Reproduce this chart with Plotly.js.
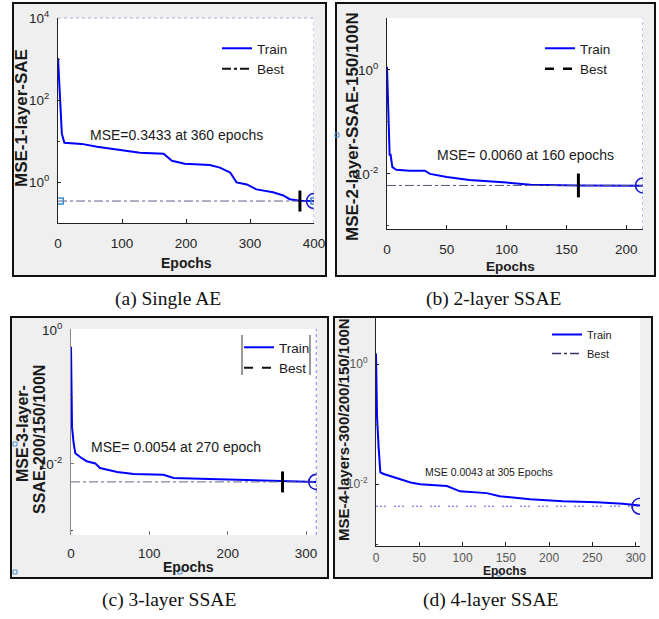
<!DOCTYPE html>
<html>
<head>
<meta charset="utf-8">
<script src="https://cdn.plot.ly/plotly-3.0.1.min.js"></script>
<style>html,body{margin:0;padding:0;background:#fff;}#chart{width:659px;height:619px;}</style>
</head>
<body>
<div id="chart"></div>
<script>
// ---------- DATA ----------
// (a) Single AE
const epochsA = [0, 3.6, 6, 10, 37, 61, 95, 128, 165, 178, 198, 237, 253, 269, 279, 295, 310, 336, 352, 362, 378, 400];
const mseA    = [1050, 95, 15.1, 9.1, 8.5, 7.2, 6.2, 5.2, 4.9, 3.3, 2.8, 2.6, 2.24, 1.7, 0.98, 0.87, 0.66, 0.56, 0.47, 0.38, 0.35, 0.345];
const bestA = 0.3433, bestEpochA = 378, lastEpochA = 400;
const markEpochsA = [3.6, 400];

// (b) 2-layer SSAE
const epochsB = [0, 1.1, 2.2, 3, 4.5, 7.8, 19, 31.6, 36, 50, 69, 100, 120, 160, 214];
const mseB    = [1.15, 0.079, 0.0234, 0.0234, 0.0135, 0.0120, 0.0115, 0.0115, 0.0100, 0.0087, 0.0076, 0.0068, 0.0062, 0.0060, 0.0059];
const bestB = 0.0060, bestEpochB = 160, lastEpochB = 214;

// (c) 3-layer SSAE
const epochsC = [0, 0.4, 1.3, 3.4, 5.5, 12, 20, 31, 37, 59, 80, 118, 131, 165, 207, 271, 313];
const mseC    = [0.56, 0.162, 0.0355, 0.0204, 0.0145, 0.0126, 0.0110, 0.0102, 0.0087, 0.0076, 0.0071, 0.0069, 0.0062, 0.0060, 0.0058, 0.0055, 0.0054];
const bestC = 0.0054, bestEpochC = 270, lastEpochC = 313;

// (d) 4-layer SSAE
const epochsD = [0, 1.2, 3, 5, 9, 24, 40, 51, 82, 97, 128, 143, 178, 216, 255, 285, 305];
const mseD    = [1.51, 0.132, 0.0417, 0.0158, 0.0148, 0.0126, 0.0107, 0.0100, 0.0093, 0.0076, 0.0071, 0.0063, 0.0056, 0.0052, 0.0050, 0.0047, 0.0044];
const bestD = 0.0043, lastEpochD = 305;

// tick labels
const xticksA = [0, 100, 200, 300, 400];
const xticksB = [0, 50, 100, 150, 200];
const xticksC = [0, 100, 200, 300];
const xticksD = [0, 50, 100, 150, 200, 250, 300];
const yvalsA = [1, 100, 10000];
const ytextA = ['10<sup>0</sup>', '10<sup>2</sup>', '10<sup>4</sup>'];
const yminorA = [0.1, 10, 1000];
const yvalsBCD = [0.01, 1];
const ytextBCD = ['10<sup>-2</sup>', '10<sup>0</sup>'];
const yminorBCD = [0.001, 0.1, 10];

const yTitles = ['MSE-1-layer-SAE', 'MSE-2-layer-SSAE-150/100N', 'MSE-3-layer-', 'SSAE-200/150/100N', 'MSE-4-layers-300/200/150/100N'];
const mseNotes = ['MSE=0.3433 at 360 epochs', 'MSE= 0.0060 at 160 epochs', 'MSE= 0.0054 at 270 epoch', 'MSE 0.0043 at 305 Epochs'];
const captions = ['(a) Single AE', '(b) 2-layer SSAE', '(c) 3-layer SSAE', '(d) 4-layer SSAE'];

// ---------- LAYOUT HELPERS ----------
const W = 659, H = 619;
const fx = p => p / W;
const fy = p => 1 - p / H;
const SANS = 'Liberation Sans, Arial, sans-serif';
const SERIF = 'Liberation Serif, Times New Roman, serif';
const BLUE = '#0000ff';

function xAxis(d0, d1, anchor, range, ticks, opt) {
  opt = opt || {};
  return Object.assign({
    domain: [fx(d0), fx(d1)], anchor: anchor, range: range, tickvals: ticks,
    showline: true, linecolor: '#222', linewidth: 1, mirror: false,
    ticks: 'inside', ticklen: 4, tickcolor: '#222', showgrid: false, zeroline: false,
    tickfont: {family: SANS, size: 13.5, color: '#262626'}, ticklabelstandoff: 8, fixedrange: true
  }, opt);
}
function yAxis(d0, d1, anchor, range, vals, text, minorVals, opt) {
  opt = opt || {};
  return Object.assign({
    domain: [fy(d1), fy(d0)], anchor: anchor, type: 'log', range: range,
    tickvals: vals, ticktext: text, tickmode: 'array',
    minor: {tickmode: 'array', tickvals: minorVals, ticks: 'inside', ticklen: 2, tickcolor: '#444', showgrid: false},
    showline: true, linecolor: '#222', linewidth: 1, mirror: false,
    ticks: 'inside', ticklen: 3, tickcolor: '#222', showgrid: false, zeroline: false,
    tickfont: {family: SANS, size: 13.5, color: '#262626'}, ticklabelstandoff: 5, fixedrange: true
  }, opt);
}

// ---------- TRACES ----------
function panelTraces(ax, ay, leg, epochs, mse, best, bestEpoch, lastEpoch, s) {
  const t = [];
  t.push({x: epochs, y: mse, xaxis: ax, yaxis: ay, mode: 'lines', name: 'Train', legend: leg,
          line: {color: BLUE, width: 2}, hoverinfo: 'skip'});
  t.push({x: [0, lastEpoch], y: [best, best], xaxis: ax, yaxis: ay, mode: 'lines', showlegend: false,
          line: {color: s.plotColor, width: 1, dash: s.plotDash}, hoverinfo: 'skip'});
  t.push({x: [null], y: [null], xaxis: ax, yaxis: ay, mode: 'lines', name: 'Best', legend: leg,
          line: {color: s.legColor, width: s.legWidth, dash: s.legDash}});
  if (bestEpoch !== null) {
    t.push({x: [bestEpoch], y: [best], xaxis: ax, yaxis: ay, mode: 'markers', showlegend: false,
            marker: {symbol: 'line-ns', size: s.barSize, line: {color: '#000', width: 3}}, hoverinfo: 'skip'});
  }
  t.push({x: [lastEpoch], y: [best], xaxis: ax, yaxis: ay, mode: 'markers', showlegend: false,
          marker: {symbol: 'circle-open', size: s.circ, color: '#1a1ad0', line: {width: 1.6}}, hoverinfo: 'skip'});
  return t;
}

let traces = [];
traces = traces.concat(panelTraces('x', 'y', 'legend', epochsA, mseA, bestA, bestEpochA, lastEpochA,
  {plotColor: '#5c5c8c', plotDash: 'dashdot', legColor: '#111', legWidth: 2, legDash: 'dashdot', barSize: 15, circ: 15}));
traces.push({x: markEpochsA, y: markEpochsA.map(() => bestA), xaxis: 'x', yaxis: 'y', mode: 'markers', showlegend: false,
  marker: {symbol: 'square-open', size: 6, color: '#3a8ad0', line: {width: 1.5}}, hoverinfo: 'skip'});
traces = traces.concat(panelTraces('x2', 'y2', 'legend2', epochsB, mseB, bestB, bestEpochB, lastEpochB,
  {plotColor: '#55557a', plotDash: 'dashdot', legColor: '#000', legWidth: 2.5, legDash: 'dash', barSize: 17, circ: 15}));
traces = traces.concat(panelTraces('x3', 'y3', 'legend3', epochsC, mseC, bestC, bestEpochC, lastEpochC,
  {plotColor: '#666688', plotDash: 'dashdot', legColor: '#111', legWidth: 2, legDash: 'dash', barSize: 15, circ: 15}));
traces = traces.concat(panelTraces('x4', 'y4', 'legend4', epochsD, mseD, bestD, null, lastEpochD,
  {plotColor: '#5a5ae6', plotDash: '2px,2px,2px,2px,2px,8px', legColor: '#33336a', legWidth: 1.5, legDash: 'dashdot', barSize: 15, circ: 16}));

// ---------- SHAPES ----------
const panels = [[13, 3, 326, 276], [336, 3, 655, 276], [11, 317, 328, 578], [334, 317, 652, 578]];
const plots = [[58, 18, 314, 223], [387, 18, 643, 229], [71, 329, 317, 535], [376, 318, 640, 546]];
const shapes = [];
panels.forEach(p => shapes.push({type: 'rect', xref: 'paper', yref: 'paper', layer: 'below',
  x0: fx(p[0]), x1: fx(p[2]), y0: fy(p[3]), y1: fy(p[1]), fillcolor: '#efefef', line: {color: '#111', width: 2}}));
plots.forEach(p => shapes.push({type: 'rect', xref: 'paper', yref: 'paper', layer: 'below',
  x0: fx(p[0]), x1: fx(p[2]), y0: fy(p[3]), y1: fy(p[1]), fillcolor: '#ffffff', line: {width: 0}}));
// dotted boundary lines (MATLAB box)
shapes.push({type: 'line', xref: 'x', yref: 'y domain', x0: lastEpochA, x1: lastEpochA, y0: 0, y1: 1, line: {color: '#9a9ad8', width: 1, dash: 'dot'}});
shapes.push({type: 'line', xref: 'x domain', yref: 'y domain', x0: 0, x1: 1, y0: 1, y1: 1, line: {color: '#b0b0d8', width: 1, dash: 'dot'}});
shapes.push({type: 'line', xref: 'x2', yref: 'y2 domain', x0: lastEpochB, x1: lastEpochB, y0: 0, y1: 1, line: {color: '#7a7ae8', width: 1, dash: 'dot'}});
shapes.push({type: 'line', xref: 'x3', yref: 'y3 domain', x0: lastEpochC, x1: lastEpochC, y0: 0, y1: 1, line: {color: '#7a7ae8', width: 1, dash: 'dot'}});
// legend box sides in (c)
shapes.push({type: 'line', xref: 'paper', yref: 'paper', x0: fx(242), x1: fx(242), y0: fy(375), y1: fy(335), line: {color: '#333', width: 1}});
shapes.push({type: 'line', xref: 'paper', yref: 'paper', x0: fx(310), x1: fx(310), y0: fy(375), y1: fy(335), line: {color: '#333', width: 1}});
// small stray markers of the source figure
[[337, 135], [15, 572], [180, 572], [15, 444], [499, 574]].forEach(p => shapes.push({type: 'rect', xref: 'paper', yref: 'paper',
  x0: fx(p[0] - 2), x1: fx(p[0] + 2), y0: fy(p[1] + 2), y1: fy(p[1] - 2), line: {color: '#4a90d0', width: 1}}));

// ---------- ANNOTATIONS ----------
const ann = [];
function txt(x, y, text, size, opt) {
  ann.push(Object.assign({xref: 'paper', yref: 'paper', x: fx(x), y: fy(y), text: text, showarrow: false,
    xanchor: 'center', yanchor: 'middle', font: {family: SANS, size: size, color: '#1a1a1a'}}, opt || {}));
}
// x titles
txt(186, 263, '<b>Epochs</b>', 14);
txt(510, 266, '<b>Epochs</b>', 13.5);
txt(188, 567, '<b>Epochs</b>', 14);
txt(505, 571, '<b>Epochs</b>', 12);
// y titles
txt(22, 118, '<b>' + yTitles[0] + '</b>', 17, {textangle: -90});
txt(352, 127, '<b>' + yTitles[1] + '</b>', 17, {textangle: -90});
txt(22, 434, '<b>' + yTitles[2] + '</b>', 16, {textangle: -90});
txt(39, 440, '<b>' + yTitles[3] + '</b>', 16, {textangle: -90});
txt(343, 430, '<b>' + yTitles[4] + '</b>', 15, {textangle: -90});
// notes
txt(88, 135, mseNotes[0], 14, {xanchor: 'left'});
txt(435, 155, mseNotes[1], 14, {xanchor: 'left'});
txt(89, 447, mseNotes[2], 14, {xanchor: 'left'});
txt(423, 472, mseNotes[3], 10.5, {xanchor: 'left'});
// captions
const capPos = [[168, 298.5], [494, 298.5], [168.5, 600], [491, 600]];
captions.forEach((c, i) => txt(capPos[i][0], capPos[i][1], c, 19.5, {font: {family: SERIF, size: 19.5, color: '#111'}}));

function leg(x, y, size, color) {
  return {x: fx(x), y: fy(y), xanchor: 'left', yanchor: 'top', bgcolor: 'rgba(0,0,0,0)', borderwidth: 0,
    font: {family: SANS, size: size, color: color || '#1a1a1a'}, tracegroupgap: 0};
}

const layout = {
  width: W, height: H, margin: {l: 0, r: 0, t: 0, b: 0},
  paper_bgcolor: '#ffffff', plot_bgcolor: 'rgba(0,0,0,0)', showlegend: true,
  xaxis:  xAxis(58, 314, 'y', [0, lastEpochA], xticksA),
  yaxis:  yAxis(18, 223, 'x', [-1.0, 4.0], yvalsA, ytextA, yminorA),
  xaxis2: xAxis(387, 643, 'y2', [0, lastEpochB], xticksB),
  yaxis2: yAxis(18, 229, 'x2', [-3.06, 1.0], yvalsBCD, ytextBCD, yminorBCD),
  xaxis3: xAxis(71, 317, 'y3', [0, 314], xticksC, {showline: false, tickcolor: '#777'}),
  yaxis3: yAxis(329, 535, 'x3', [-3.06, 0.015], yvalsBCD, ytextBCD, yminorBCD, {linecolor: '#888', tickcolor: '#777'}),
  xaxis4: xAxis(376, 640, 'y4', [0, lastEpochD], xticksD, {tickfont: {family: SANS, size: 12, color: '#555'}, ticklabelstandoff: 1}),
  yaxis4: yAxis(318, 546, 'x4', [-3.03, 0.77], yvalsBCD, ytextBCD, yminorBCD, {tickfont: {family: SANS, size: 12, color: '#555'}}),
  legend:  leg(217, 33, 13.5),
  legend2: leg(540, 33, 13.5),
  legend3: leg(239, 332, 13.5),
  legend4: leg(547, 320, 11),
  shapes: shapes,
  annotations: ann
};

Plotly.newPlot('chart', traces, layout, {staticPlot: true, displayModeBar: false});
</script>
</body>
</html>
